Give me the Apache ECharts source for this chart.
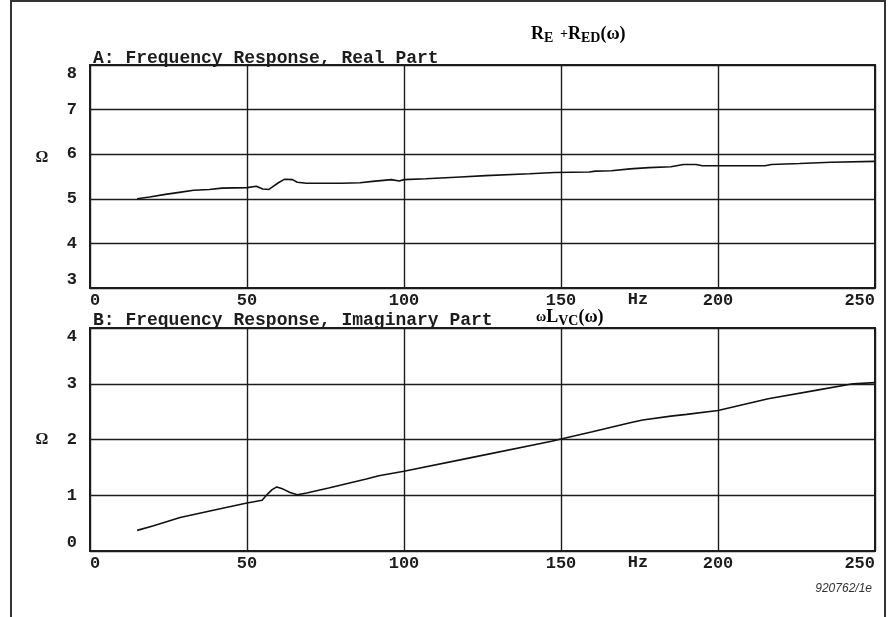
<!DOCTYPE html>
<html>
<head>
<meta charset="utf-8">
<title>Frequency Response</title>
<script src="https://cdn.jsdelivr.net/npm/echarts@6/dist/echarts.min.js"></script>
<style>
    html, body { margin: 0; padding: 0; background: #fff; }
    #main { width: 891px; height: 617px; }
</style>
</head>
<body>
<div id="main"></div>
<script>
// A: real part, RE + RED(w)
var freqA = [15, 19, 24, 29, 33, 38, 42, 50, 53, 55, 57, 58, 60, 62, 64.5, 66, 69, 80, 86, 90, 96, 98.5, 100, 107, 118, 126, 140, 148, 159, 161, 166, 172, 178, 185, 189, 193, 195, 215, 217, 226, 236, 250];
var realPart = [5.00, 5.04, 5.10, 5.15, 5.19, 5.21, 5.24, 5.25, 5.28, 5.22, 5.21, 5.26, 5.36, 5.44, 5.43, 5.37, 5.35, 5.35, 5.36, 5.39, 5.43, 5.40, 5.43, 5.45, 5.49, 5.52, 5.56, 5.59, 5.60, 5.62, 5.63, 5.67, 5.70, 5.72, 5.77, 5.77, 5.74, 5.74, 5.77, 5.79, 5.82, 5.84];

// B: imaginary part, wLVC(w)
var freqB = [15, 20, 28.7, 40, 50, 54.8, 56.7, 58, 59.5, 61.5, 63.7, 66, 69, 76, 88, 92, 100, 121, 147, 150, 160, 172, 176, 185, 190, 200, 216, 232, 243, 250];
var imagPart = [0.37, 0.45, 0.60, 0.74, 0.86, 0.91, 1.03, 1.10, 1.15, 1.11, 1.05, 1.01, 1.04, 1.13, 1.29, 1.35, 1.43, 1.67, 1.97, 2.01, 2.14, 2.30, 2.35, 2.42, 2.45, 2.52, 2.73, 2.89, 3.00, 3.02];

// tick settings
var xTicks = { min: 0, max: 250, interval: 50 };
var yTicksA = { min: 3, max: 8, interval: 1 };
var yTicksB = { min: 0, max: 4, interval: 1 };

var monoFont = 'Liberation Mono';
var ink = '#1c1c1c';

function pairs(xs, ys) {
    var out = [];
    for (var i = 0; i < xs.length; i++) {
        out.push([xs[i], ys[i]]);
    }
    return out;
}

function makeX(idx) {
    return {
        type: 'value',
        gridIndex: idx,
        min: xTicks.min,
        max: xTicks.max,
        interval: xTicks.interval,
        axisLine: { show: true, lineStyle: { color: ink, width: 2 } },
        axisTick: { show: false },
        splitLine: { show: true, lineStyle: { color: ink, width: 1.4 } },
        axisLabel: {
            margin: 4,
            color: ink,
            fontFamily: monoFont,
            fontWeight: 'bold',
            fontSize: 17,
            alignMinLabel: 'left',
            alignMaxLabel: 'right'
        }
    };
}

function makeY(idx, t) {
    return {
        type: 'value',
        gridIndex: idx,
        min: t.min,
        max: t.max,
        interval: t.interval,
        axisLine: { show: true, lineStyle: { color: ink, width: 2 } },
        axisTick: { show: false },
        splitLine: { show: true, lineStyle: { color: ink, width: 1.4 } },
        axisLabel: {
            margin: 13,
            color: ink,
            fontFamily: monoFont,
            fontWeight: 'bold',
            fontSize: 17,
            verticalAlignMinLabel: 'bottom',
            verticalAlignMaxLabel: 'top'
        }
    };
}

var formulaRich = {
    r: { fontFamily: 'Liberation Serif', fontWeight: 'bold', fontSize: 18, color: ink, lineHeight: 22, verticalAlign: 'middle' },
    s: { fontFamily: 'Liberation Serif', fontWeight: 'bold', fontSize: 14, color: ink, lineHeight: 22, verticalAlign: 'bottom' },
    p: { fontFamily: 'Liberation Serif', fontWeight: 'bold', fontSize: 14, color: ink, lineHeight: 22, verticalAlign: 'middle' }
};

var myChart = echarts.init(document.getElementById('main'));

var option = {
    backgroundColor: '#fff',
    animation: false,
    title: [{
        text: 'A: Frequency Response, Real Part',
        left: 88,
        top: 44,
        textStyle: { fontFamily: monoFont, fontWeight: 'bold', fontSize: 18, color: ink }
    }, {
        text: 'B: Frequency Response, Imaginary Part',
        left: 88,
        top: 306,
        textStyle: { fontFamily: monoFont, fontWeight: 'bold', fontSize: 18, color: ink }
    }],
    grid: [
        { left: 90, top: 65, width: 785, height: 223, show: true, borderColor: ink, borderWidth: 2, backgroundColor: 'transparent' },
        { left: 90, top: 328, width: 785, height: 223, show: true, borderColor: ink, borderWidth: 2, backgroundColor: 'transparent' }
    ],
    xAxis: [makeX(0), makeX(1)],
    yAxis: [makeY(0, yTicksA), makeY(1, yTicksB)],
    series: [{
        type: 'line',
        xAxisIndex: 0,
        yAxisIndex: 0,
        data: pairs(freqA, realPart),
        showSymbol: false,
        lineStyle: { color: '#111', width: 1.6 }
    }, {
        type: 'line',
        xAxisIndex: 1,
        yAxisIndex: 1,
        data: pairs(freqB, imagPart),
        showSymbol: false,
        lineStyle: { color: '#111', width: 1.6 }
    }],
    graphic: [
        // outer frame
        { type: 'rect', shape: { x: 11, y: 1, width: 874, height: 650 }, style: { fill: 'none', stroke: '#333', lineWidth: 2 } },
        // unit labels
        { type: 'text', x: 42, y: 158, style: { text: 'Ω', fontFamily: 'Liberation Serif', fontWeight: 'bold', fontSize: 16, fill: ink, align: 'center', verticalAlign: 'middle' } },
        { type: 'text', x: 42, y: 440, style: { text: 'Ω', fontFamily: 'Liberation Serif', fontWeight: 'bold', fontSize: 16, fill: ink, align: 'center', verticalAlign: 'middle' } },
        { type: 'text', x: 638, y: 300, style: { text: 'Hz', fontFamily: monoFont, fontWeight: 'bold', fontSize: 17, fill: ink, align: 'center', verticalAlign: 'middle' } },
        { type: 'text', x: 638, y: 563, style: { text: 'Hz', fontFamily: monoFont, fontWeight: 'bold', fontSize: 17, fill: ink, align: 'center', verticalAlign: 'middle' } },
        // curve names
        { type: 'text', x: 531, y: 23, style: { text: '{r|R}{s|E}  {p|+}{r|R}{s|ED}{r|(ω)}', rich: formulaRich } },
        { type: 'text', x: 536, y: 306, style: { text: '{p|ω}{r|L}{s|VC}{r|(ω)}', rich: formulaRich } },
        // figure number
        { type: 'text', x: 872, y: 589, style: { text: '920762/1e', fontFamily: 'Liberation Sans', fontStyle: 'italic', fontSize: 12, fill: '#333', align: 'right', verticalAlign: 'middle' } }
    ]
};

myChart.setOption(option);
</script>
</body>
</html>
